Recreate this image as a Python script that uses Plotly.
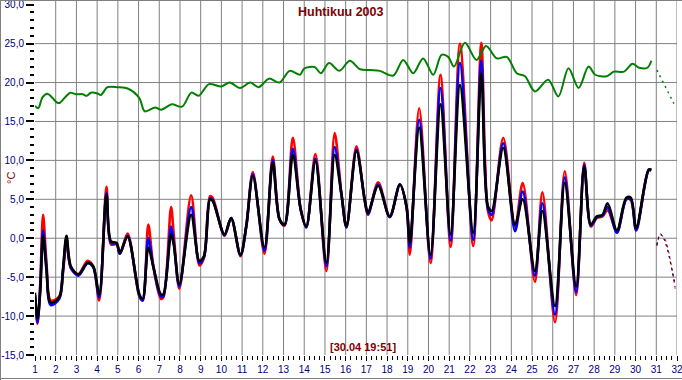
import plotly.graph_objects as go

# ---- data (day of month as decimal, temperature in °C) ----
t_main = [1.0, 1.12, 1.25, 1.39, 1.55, 1.76, 2.17, 2.35, 2.52, 2.73, 3.1, 3.54, 3.81, 4.1, 4.45, 4.67,
          4.94, 5.1, 5.47, 6.04, 6.2, 6.47, 6.71, 7.08, 7.2, 7.57, 7.7, 7.97, 8.54, 8.94, 9.16, 9.45,
          9.58, 10.15, 10.47, 10.92, 11.2, 11.52, 12.08, 12.48, 12.81, 13.05, 13.45, 13.83, 14.1, 14.54,
          15.07, 15.47, 15.8, 16.04, 16.52, 16.92, 17.08, 17.57, 18.13, 18.62, 18.94, 19.1, 19.55, 20.1,
          20.58, 21.07, 21.52, 22.16, 22.55, 22.87, 23.05, 23.61, 24.18, 24.55, 25.14, 25.5, 26.11,
          26.58, 27.13, 27.52, 27.84, 28.13, 28.4, 28.65, 29.1, 29.55, 29.77, 30.03, 30.63, 30.76]

black = [-7.0, -10.3, -7.0, 0.3, -4.0, -8.3, -7.6, -4.0, 0.3, -3.6, -4.65, -3.15, -3.6, -7.2, 5.6, -0.4,
         -0.6, -1.9, 0.2, -7.2, -7.8, -1.2, -3.6, -7.2, -7.2, 0.5, -0.8, -5.9, 3.0, -2.9, -2.3, 5.0,
         4.8, 0.5, 2.6, -2.1, 1.5, 8.0, -1.2, 9.7, 2.4, 1.75, 10.7, 3.7, 1.5, 9.9,
         -3.15, 10.7, 5.6, 1.5, 11.2, 5.0, 3.25, 6.75, 2.8, 6.9, 4.1, -0.6, 14.2, -2.1,
         17.2, 0.5, 19.7, 0.7, 21.2, 4.1, 3.5, 11.6, 1.75, 5.0, -4.2, 3.5, -8.7,
         7.1, -6.2, 9.2, 1.75, 2.8, 3.0, 4.5, 1.0, 5.2, 5.2, 1.3, 8.8, 8.8]

red = [-7.5, -11.0, -6.0, 3.0, -3.0, -8.0, -7.5, -4.5, -0.5, -3.8, -4.6, -2.9, -3.6, -8.0, 6.6, -0.8,
       -0.8, -2.0, 0.6, -7.5, -8.0, 1.75, -3.5, -7.8, -7.6, 4.0, 0.5, -6.5, 5.5, -3.5, -2.5, 5.4,
       5.2, 0.3, 2.6, -2.3, 1.5, 8.5, -2.0, 10.5, 2.4, 1.6, 12.9, 3.7, 1.4, 10.8,
       -4.2, 13.5, 5.6, 1.4, 11.8, 4.8, 3.0, 7.2, 2.8, 6.9, 4.0, -2.1, 16.7, -3.2,
       21.0, -1.1, 25.0, -1.0, 25.1, 3.5, 2.3, 12.9, 1.5, 7.1, -5.6, 5.9, -10.8,
       8.6, -7.3, 9.7, 1.5, 2.6, 2.8, 3.6, 0.8, 5.0, 4.9, 1.1, 8.8, 8.8]

blue = [-7.3, -10.8, -6.5, 1.0, -3.5, -8.6, -7.8, -4.2, 0.0, -3.8, -4.8, -3.2, -3.7, -7.6, 5.8, -0.6,
        -0.7, -2.0, 0.3, -7.4, -8.0, 0.0, -3.6, -7.5, -7.4, 1.5, -0.5, -6.2, 4.0, -3.2, -2.4, 5.1,
        4.9, 0.4, 2.6, -2.2, 1.5, 8.2, -1.6, 10.0, 2.4, 1.7, 11.5, 3.7, 1.4, 10.2,
        -3.6, 11.7, 5.6, 1.4, 11.4, 4.9, 3.1, 6.9, 2.7, 6.9, 4.0, -1.2, 15.2, -2.6,
        19.3, -0.3, 22.5, -0.2, 22.8, 3.8, 3.0, 12.2, 0.9, 6.0, -4.8, 4.5, -9.8,
        7.8, -6.9, 9.4, 1.6, 2.7, 2.9, 4.0, 0.7, 5.0, 5.0, 1.0, 8.7, 8.7]

t_green = [1.0, 1.16, 1.36, 1.6, 2.08, 2.2, 2.49, 2.7, 2.97, 3.3, 3.5, 3.7, 4.02, 4.18, 4.5, 5.0, 5.5,
           6.04, 6.3, 6.8, 7.1, 7.6, 8.1, 8.55, 8.9, 9.4, 10.0, 10.4, 10.9, 11.4, 11.8, 12.3, 12.8,
           13.3, 13.8, 14.0, 14.5, 14.8, 15.2, 15.7, 16.2, 16.7, 17.2, 17.65, 18.3, 18.78, 19.26,
           19.74, 20.23, 20.63, 20.95, 21.23, 21.76, 22.32, 22.78, 23.3, 23.78, 24.26, 24.66, 25.14,
           25.78, 26.27, 26.76, 27.25, 27.73, 28.05, 28.6, 28.95, 29.44, 29.85, 30.17, 30.57, 30.76]
green = [17.0, 16.7, 18.1, 18.55, 17.4, 17.4, 18.2, 18.7, 18.5, 18.5, 18.3, 18.7, 18.6, 18.4, 19.4, 19.4, 19.2,
         18.0, 16.3, 16.8, 16.5, 17.2, 16.9, 18.7, 18.3, 19.8, 19.5, 20.0, 19.3, 20.0, 19.4, 20.5, 20.0,
         21.5, 21.0, 21.8, 22.0, 21.2, 22.5, 21.5, 22.8, 21.7, 21.6, 21.5, 20.9, 22.9, 21.2,
         23.1, 21.0, 23.55, 23.3, 22.05, 25.1, 22.9, 24.7, 23.1, 23.3, 21.2, 20.8, 18.85,
         20.35, 18.2, 21.85, 19.3, 22.05, 21.0, 20.8, 21.4, 21.4, 22.4, 21.9, 21.9, 22.8]

# forecast (dashed) parts
t_fc = [31.03, 31.19, 31.4, 31.91]
black_fc = [-0.8, 0.6, -0.3, -6.0]
red_fc = [-1.0, 0.4, 0.0, -6.5]
blue_fc = [-0.9, 0.5, -0.2, -6.2]
t_green_fc = [31.03, 31.85]
green_fc = [21.6, 17.3]

x_ticks = list(range(1, 33))
y_ticks = [-15, -10, -5, 0, 5, 10, 15, 20, 25, 30]
y_tick_text = ["-15,0", "-10,0", "-5,0", "0,0", "5,0", "10,0", "15,0", "20,0", "25,0", "30,0"]
title_text = "Huhtikuu 2003"
stamp_text = "[30.04 19:51]"
unit_text = "°C"

# ---- figure ----
W, H = 682, 380
ML, MR, MT, MB = 35, 5, 0, 25
PW, PH = W - ML - MR, H - MT - MB
FONT = "Liberation Sans, Arial, sans-serif"
NAVY = "#000080"
DARKRED = "#800000"
GRID = "#808080"


def px_x(px):
    return (px - ML) / PW


def px_y(py):
    return 1 - (py - MT) / PH


fig = go.Figure()
line_kw = dict(shape="spline", smoothing=0.9)
fig.add_trace(go.Scatter(x=t_main, y=red, mode="lines", line=dict(color="#ff0000", width=2.6, **line_kw)))
fig.add_trace(go.Scatter(x=t_main, y=blue, mode="lines", line=dict(color="#0000ff", width=2.6, **line_kw)))
fig.add_trace(go.Scatter(x=t_main, y=black, mode="lines", line=dict(color="#000000", width=2.6, **line_kw)))
fig.add_trace(go.Scatter(x=t_green, y=green, mode="lines", line=dict(color="#008000", width=2, **line_kw)))

fig.add_trace(go.Scatter(x=t_fc, y=red_fc, mode="lines", line=dict(color="#ff0000", width=1, dash="3px,3px", **line_kw)))
fig.add_trace(go.Scatter(x=t_fc, y=blue_fc, mode="lines", line=dict(color="#0000ff", width=1, dash="2px,4px", **line_kw)))
fig.add_trace(go.Scatter(x=t_fc, y=black_fc, mode="lines", line=dict(color="#000000", width=1, dash="2px,4px", **line_kw)))
fig.add_trace(go.Scatter(x=t_green_fc, y=green_fc, mode="lines", line=dict(color="#008000", width=1.5, dash="2px,4px")))

shapes = []
for d in range(2, 33):
    shapes.append(dict(type="line", xref="x", yref="paper", x0=d, x1=d, y0=0, y1=1,
                       line=dict(color=GRID, width=1), layer="below"))
for v in range(-10, 30, 5):
    shapes.append(dict(type="line", xref="x", yref="y", x0=1, x1=32, y0=v, y1=v,
                       line=dict(color=GRID, width=1), layer="below"))
# outer frame of the picture
shapes.append(dict(type="line", xref="paper", yref="paper", x0=px_x(0), x1=px_x(W), y0=px_y(0.5), y1=px_y(0.5),
                   line=dict(color=GRID, width=1)))
shapes.append(dict(type="line", xref="paper", yref="paper", x0=px_x(0.5), x1=px_x(0.5), y0=px_y(0), y1=px_y(H),
                   line=dict(color=GRID, width=1)))
shapes.append(dict(type="line", xref="paper", yref="paper", x0=px_x(0), x1=px_x(W), y0=px_y(378.5), y1=px_y(378.5),
                   line=dict(color=GRID, width=1)))

annotations = [
    dict(text=f"<b>{title_text}</b>", xref="paper", yref="paper", x=px_x(340), y=px_y(12),
         showarrow=False, font=dict(family=FONT, size=12.5, color=DARKRED), xanchor="center", yanchor="middle"),
    dict(text=f"<b>{stamp_text}</b>", xref="paper", yref="paper", x=px_x(363), y=px_y(347),
         showarrow=False, font=dict(family=FONT, size=11, color=DARKRED), xanchor="center", yanchor="middle"),
    dict(text=unit_text, xref="paper", yref="paper", x=px_x(11), y=px_y(178), textangle=-90,
         showarrow=False, font=dict(family=FONT, size=11, color=DARKRED), xanchor="center", yanchor="middle"),
]

fig.update_layout(
    width=W, height=H,
    margin=dict(l=ML, r=MR, t=MT, b=MB, pad=0, autoexpand=False),
    paper_bgcolor="white", plot_bgcolor="white",
    showlegend=False,
    shapes=shapes,
    annotations=annotations,
    xaxis=dict(range=[1, 32], showgrid=False, zeroline=False, showline=False, automargin=False,
               tickmode="array", tickvals=x_ticks, ticktext=[str(v) for v in x_ticks],
               ticks="outside", ticklen=5, tickwidth=1, tickcolor="black", ticklabeloverflow="allow",
               tickfont=dict(family=FONT, size=10, color=NAVY),
               minor=dict(dtick=0.25, tick0=1, ticks="outside", ticklen=4, tickwidth=1, tickcolor="black", showgrid=False)),
    yaxis=dict(range=[-15, 30 + 4.7 / 7.8], showgrid=False, zeroline=False, showline=False, automargin=False,
               tickmode="array", tickvals=y_ticks, ticktext=y_tick_text,
               ticks="outside", ticklen=8, tickwidth=2, tickcolor="black", ticklabeloverflow="allow",
               tickfont=dict(family=FONT, size=10, color=NAVY),
               minor=dict(dtick=1, tick0=0, ticks="outside", ticklen=4, tickwidth=2, tickcolor="black", showgrid=False)),
)

fig.write_html("out.html", config={"displayModeBar": False, "staticPlot": True},
               post_script="document.body.style.margin='0';document.body.style.padding='0';"
                           "document.body.style.overflow='hidden';")
